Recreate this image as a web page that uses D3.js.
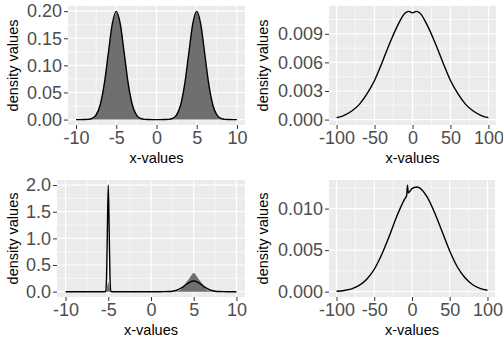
<!DOCTYPE html>
<html>
<head>
<meta charset="utf-8">
<script src="https://cdn.jsdelivr.net/npm/d3@7"></script>
<style>
  body { margin: 0; background: #fff; }
  text { font-family: "Liberation Sans", Arial, sans-serif; }
</style>
</head>
<body>
<svg id="chart" width="503" height="346"></svg>
<script>
// top-left: true density (line) and estimate (fill)
const p1X = [-10,-9.5,-9,-8.5,-8,-7.5,-7,-6.5,-6,-5.5,-5,-4.5,-4,-3.5,-3,-2.5,-2,-1.5,-1,-0.5,0,
             0.5,1,1.5,2,2.5,3,3.5,4,4.5,5,5.5,6,6.5,7,7.5,8,8.5,9,9.5,10];
const p1Line = [0,0,0.0001,0.0004,0.0022,0.0088,0.027,0.065,0.121,0.176,0.1995,0.176,0.121,0.065,0.027,0.0088,0.0022,0.0004,0.0001,0,0,
                0,0.0001,0.0004,0.0022,0.0088,0.027,0.065,0.121,0.176,0.1995,0.176,0.121,0.065,0.027,0.0088,0.0022,0.0004,0.0001,0,0];
const p1Fill = [0,0,0.0002,0.0008,0.0035,0.011,0.029,0.066,0.119,0.172,0.197,0.178,0.125,0.066,0.026,0.008,0.002,0.0005,0.0001,0,0,
                0,0.0001,0.0005,0.0025,0.0095,0.028,0.066,0.12,0.174,0.198,0.175,0.12,0.064,0.027,0.0095,0.0028,0.0006,0.0001,0,0];
const p1XTicks = [-10,-5,0,5,10];
const p1XLabels = ["-10","-5","0","5","10"];
const p1YTicks = [0,0.05,0.1,0.15,0.2];
const p1YLabels = ["0.00","0.05","0.10","0.15","0.20"];

// top-right
const p2X = [-100,-90,-80,-70,-60,-50,-40,-30,-20,-10,-5,0,5,10,20,30,40,50,60,70,80,90,100];
const p2Line = [0.0002,0.00045,0.0009,0.0016,0.0027,0.0041,0.006,0.008,0.0098,0.01115,0.01135,0.0112,0.01135,0.01115,0.0098,0.008,0.006,0.0041,0.0027,0.0016,0.0009,0.00045,0.0002];
const p2XTicks = [-100,-50,0,50,100];
const p2XLabels = ["-100","-50","0","50","100"];
const p2YTicks = [0,0.003,0.006,0.009];
const p2YLabels = ["0.000","0.003","0.006","0.009"];

// bottom-left
const p3X = [-10,-9,-8,-7,-6,-5.5,-5.3,-5.2,-5.1,-5,-4.9,-4.8,-4.7,-4.5,-4,-3,-2,-1,0,
             1,1.5,2,2.5,3,3.5,4,4.5,5,5.5,6,6.5,7,7.5,8,8.5,9,10];
const p3Line = [0,0,0,0,0,0,0.002,0.27,1.21,1.995,1.21,0.27,0.002,0,0,0,0,0,0,
                0.0001,0.0004,0.0022,0.0088,0.027,0.065,0.121,0.176,0.1995,0.176,0.121,0.065,0.027,0.0088,0.0022,0.0004,0.0001,0];
const p3FillX = [-10,-6,-5.6,-5.4,-5.2,-5.1,-5,-4.9,-4.8,-4.6,-4.4,-4,
                 0,2,2.5,3,3.5,4,4.5,5,5.5,6,6.5,7,7.5,8,10];
const p3Fill = [0,0,0,0.01,0.05,0.12,0.18,0.12,0.05,0.01,0,0,
                0,0,0.002,0.01,0.04,0.15,0.25,0.35,0.25,0.15,0.04,0.01,0.002,0,0];
const p3XTicks = [-10,-5,0,5,10];
const p3XLabels = ["-10","-5","0","5","10"];
const p3YTicks = [0,0.5,1,1.5,2];
const p3YLabels = ["0.0","0.5","1.0","1.5","2.0"];

// bottom-right
const p4X = [-100,-90,-80,-70,-60,-50,-40,-30,-20,-10,-7,-6,-5,0,6,10,20,30,40,50,60,70,80,90,100];
const p4Line = [0.00005,0.00014,0.00034,0.00075,0.0015,0.0027,0.0045,0.0067,0.0091,0.0111,0.0116,0.0128,0.0119,
                0.0124,0.0126,0.0125,0.0114,0.0095,0.0072,0.0049,0.003,0.0017,0.00087,0.0004,0.00017];
const p4XTicks = [-100,-50,0,50,100];
const p4XLabels = ["-100","-50","0","50","100"];
const p4YTicks = [0,0.005,0.01];
const p4YLabels = ["0.000","0.005","0.010"];

const zip = (xs, ys) => xs.map((x, i) => ({x: x, y: ys[i]}));

const panels = [
  { left: 68,  top: 6,   width: 177, height: 119, titleX: 18,  line: zip(p1X, p1Line), fill: zip(p1X, p1Fill),
    xt: p1XTicks, xl: p1XLabels, yt: p1YTicks, yl: p1YLabels },
  { left: 329, top: 6,   width: 167, height: 119, titleX: 268, line: zip(p2X, p2Line), fill: null,
    xt: p2XTicks, xl: p2XLabels, yt: p2YTicks, yl: p2YLabels },
  { left: 57,  top: 180, width: 188, height: 117, titleX: 18,  line: zip(p3X, p3Line), fill: zip(p3FillX, p3Fill),
    xt: p3XTicks, xl: p3XLabels, yt: p3YTicks, yl: p3YLabels },
  { left: 329, top: 180, width: 166, height: 117, titleX: 268, line: zip(p4X, p4Line), fill: null,
    xt: p4XTicks, xl: p4XLabels, yt: p4YTicks, yl: p4YLabels }
];

const svg = d3.select('#chart');

function expand(lo, hi) {
  const pad = (hi - lo) * 0.05;
  return [lo - pad, hi + pad];
}

function minorTicks(major, domain) {
  const step = major[1] - major[0];
  const out = [];
  for (let i = -1; i < major.length; i++) {
    const m = major[0] + (i + 0.5) * step;
    if (m > domain[0] && m < domain[1]) out.push(m);
  }
  return out;
}

panels.forEach((p, k) => {
  const all = p.line.concat(p.fill || []);
  const x = d3.scaleLinear()
      .domain(expand(d3.min(all, d => d.x), d3.max(all, d => d.x)))
      .range([p.left, p.left + p.width]);
  const y = d3.scaleLinear()
      .domain(expand(Math.min(0, d3.min(all, d => d.y)), d3.max(all, d => d.y)))
      .range([p.top + p.height, p.top]);

  const g = svg.append('g');

  g.append('clipPath').attr('id', 'clip' + k)
    .append('rect')
      .attr('x', p.left).attr('y', p.top)
      .attr('width', p.width).attr('height', p.height);

  g.append('rect')
      .attr('x', p.left).attr('y', p.top)
      .attr('width', p.width).attr('height', p.height)
      .attr('fill', '#EBEBEB');

  // minor grid
  g.selectAll('.mx').data(minorTicks(p.xt, x.domain())).enter().append('line')
      .attr('x1', d => x(d)).attr('x2', d => x(d))
      .attr('y1', p.top).attr('y2', p.top + p.height)
      .attr('stroke', '#fff').attr('stroke-width', 0.6);
  g.selectAll('.my').data(minorTicks(p.yt, y.domain())).enter().append('line')
      .attr('y1', d => y(d)).attr('y2', d => y(d))
      .attr('x1', p.left).attr('x2', p.left + p.width)
      .attr('stroke', '#fff').attr('stroke-width', 0.6);
  // major grid
  g.selectAll('.gx').data(p.xt).enter().append('line')
      .attr('x1', d => x(d)).attr('x2', d => x(d))
      .attr('y1', p.top).attr('y2', p.top + p.height)
      .attr('stroke', '#fff').attr('stroke-width', 1.2);
  g.selectAll('.gy').data(p.yt).enter().append('line')
      .attr('y1', d => y(d)).attr('y2', d => y(d))
      .attr('x1', p.left).attr('x2', p.left + p.width)
      .attr('stroke', '#fff').attr('stroke-width', 1.2);

  const plot = g.append('g').attr('clip-path', `url(#clip${k})`);

  if (p.fill) {
    const area = d3.area()
        .x(d => x(d.x)).y0(y(0)).y1(d => y(d.y))
        .curve(d3.curveMonotoneX);
    plot.append('path').datum(p.fill)
        .attr('d', area)
        .attr('fill', '#6f6f6f');
  }

  const line = d3.line()
      .x(d => x(d.x)).y(d => y(d.y))
      .curve(d3.curveMonotoneX);
  plot.append('path').datum(p.line)
      .attr('d', line)
      .attr('fill', 'none')
      .attr('stroke', '#000')
      .attr('stroke-width', 1.4);

  // axes
  const xa = g.append('g')
      .attr('transform', `translate(0,${p.top + p.height})`)
      .call(d3.axisBottom(x).tickValues(p.xt).tickFormat((d, i) => p.xl[i]).tickSize(4).tickPadding(2));
  const ya = g.append('g')
      .attr('transform', `translate(${p.left},0)`)
      .call(d3.axisLeft(y).tickValues(p.yt).tickFormat((d, i) => p.yl[i]).tickSize(4).tickPadding(2));
  [xa, ya].forEach(a => {
    a.select('.domain').remove();
    a.selectAll('line').attr('stroke', '#333');
    a.selectAll('text').attr('fill', '#4D4D4D').style('font-size', '18px')
      .style('font-family', '"Liberation Sans", Arial, sans-serif');
  });

  g.append('text')
      .attr('x', p.left + p.width / 2)
      .attr('y', p.top + p.height + 38)
      .attr('text-anchor', 'middle')
      .style('font-size', '14.5px')
      .text('x-values');

  g.append('text')
      .attr('transform', `translate(${p.titleX},${p.top + p.height / 2}) rotate(-90)`)
      .attr('text-anchor', 'middle')
      .style('font-size', '14.5px')
      .text('density values');
});
</script>
</body>
</html>
